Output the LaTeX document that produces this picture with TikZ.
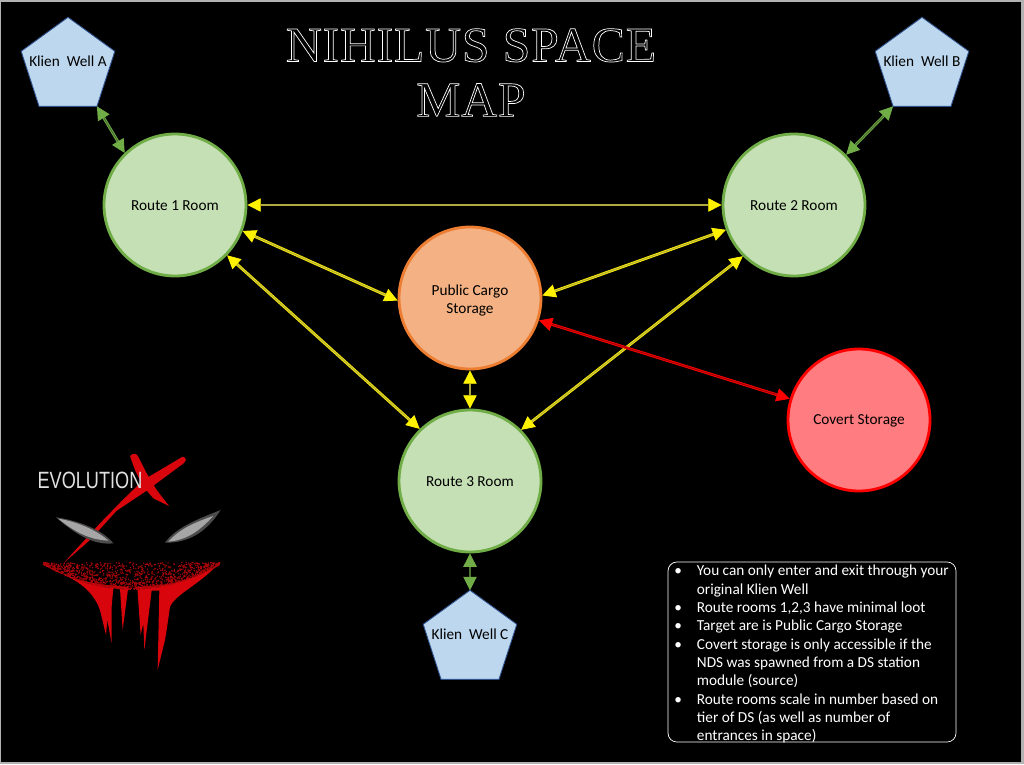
\documentclass[tikz,border=0pt]{standalone}
\usepackage{fontspec}
\setmainfont{Carlito}
\newfontfamily\titlefont[LetterSpace=1.6]{Liberation Serif}
\newfontfamily\logofont{Liberation Sans}
\usetikzlibrary{arrows.meta,shapes.geometric}
\definecolor{roomfill}{HTML}{C5E0B4}
\definecolor{roomline}{HTML}{70AD47}
\definecolor{cargofill}{HTML}{F4B183}
\definecolor{cargoline}{HTML}{ED7D31}
\definecolor{covertfill}{HTML}{FF7C80}
\definecolor{wellfill}{HTML}{BDD7EE}
\definecolor{wellline}{HTML}{2F528F}
\definecolor{logored}{HTML}{D8060C}
\tikzset{
  disc/.style={circle,line width=1.6pt,minimum size=2.84cm,inner sep=0pt,text=black,font=\fontsize{8.7}{10.4}\selectfont,align=center},
  room/.style={disc,draw=roomline,fill=roomfill,text height=6.8pt},
  cargo/.style={disc,draw=cargoline,fill=cargofill},
  covert/.style={disc,draw=red,fill=covertfill,text height=6.8pt},
  well/.style={regular polygon,regular polygon sides=5,draw=wellline,fill=wellfill,line width=0.5pt,minimum size=1.97cm,inner sep=0pt,outer sep=0pt},
  welltext/.style={text=black,font=\fontsize{8.7}{10.4}\selectfont,yshift=0.1cm},
  link/.style={double=#1!65!black,draw=#1,line width=0.5pt,double distance=0.6pt,{Triangle[length=7.6pt,width=7.6pt,fill=#1]}-{Triangle[length=7.6pt,width=7.6pt,fill=#1]}},
  yellowlink/.style={link=yellow},
  greenlink/.style={link=roomline},
  redlink/.style={link=red},
  logogrey/.style={fill=black!35,draw=none},
}
\newcommand{\hollow}[1]{\special{pdf:code 1 Tr 0.4 w 1 1 1 RG}#1\special{pdf:code 0 Tr}}
\begin{document}
\begin{tikzpicture}[x=0.02cm,y=-0.02cm]

  \useasboundingbox (0,0) rectangle (1024,764);
  \fill[black!30] (0,0) rectangle (1024,764);
  \fill[black] (1.5,2) rectangle (1021,762);

  \node (title) [text=white,align=center,font=\fontsize{28.3}{31.2}\selectfont\titlefont] at(471,72.5) {\hollow{NIHILUS SPACE}\\\hollow{MAP}};

  % rooms
  \node (route1) [room] at(175,205) {Route 1 Room};
  \node (route2) [room] at(794,205) {Route 2 Room};
  \node (route3) [room] at(470,481) {Route 3 Room};
  \node (cargo) [cargo] at(470,298) {\rule{0pt}{8.5pt}Public Cargo\\Storage};
  \node (covert) [covert] at(859,420) {Covert Storage};

  % wells
  \node (wellA) [well,label={[welltext]center:Klien\ \ Well A}] at(68,66.5) {};
  \node (wellB) [well,label={[welltext]center:Klien\ \ Well B}] at(922,66.5) {};
  \node (wellC) [well,label={[welltext]center:Klien\ \ Well C}] at(470,639.5) {};

  \draw[greenlink] (wellA.corner 4) -- (route1.134);
  \draw[greenlink] (wellB.corner 3) -- (route2.44);
  \draw[greenlink] (route3.south) -- (wellC.corner 1);

  \draw[yellowlink] (route1.east) -- (route2.west);
  \draw[yellowlink] (route1.-21) -- (cargo.182);
  \draw[yellowlink] (cargo.2) -- (route2.200);
  \draw[yellowlink] (route1.-44) -- (route3.134);
  \draw[yellowlink] (route2.225) -- (route3.45);
  \draw[yellowlink] (cargo.south) -- (route3.north);
  \draw[redlink] (cargo.-18) -- (covert.163);

  % notes
  \node (notes) [draw=white,fill=black,rounded corners=5pt,line width=0.4pt,minimum width=5.76cm,minimum height=3.6cm,inner sep=0pt] at(812,652) {};
  \node (notetext) [text=white,anchor=north west,inner sep=0pt,font=\fontsize{8.7}{10.45}\selectfont] at(674,562.5) {%
    \begin{tabular}{@{}l@{\hskip 8.5pt}l@{}}
    \textbullet & You can only enter and exit through your\\
     & original Klien Well\\
    \textbullet & Route rooms 1,2,3 have minimal loot\\
    \textbullet & Target are is Public Cargo Storage\\
    \textbullet & Covert storage is only accessible if the\\
     & NDS was spawned from a DS station\\
     & module (source)\\
    \textbullet & Route rooms scale in number based on\\
     & tier of DS (as well as number of\\
     & entrances in space)
    \end{tabular}};

  % logo
  \begin{scope}[shift={(0,430)},x=0.00667cm,y=-0.00667cm]
    \fill[logored] (190,400) -- (300,280) -- (370,208) -- (430,150) -- (548,80) .. controls (562,82) and (562,95) .. (540,108) -- (440,182) -- (350,242) -- (270,330) -- cycle;
    \fill[logored] (390,78) .. controls (400,68) and (410,70) .. (415,80) -- (440,130) -- (470,180) -- (507,228) -- (460,205) -- (430,170) -- (405,120) -- cycle;
    \fill[black!70] (168,262) .. controls (230,270) and (310,300) .. (340,340) .. controls (290,345) and (240,325) .. cycle;
    \fill[logogrey] (175,266) .. controls (230,275) and (290,300) .. (325,332) .. controls (280,330) and (235,315) .. cycle;
    \fill[black!70] (495,338) .. controls (530,290) and (600,265) .. (662,240) .. controls (630,290) and (580,340) .. cycle;
    \fill[logogrey] (505,335) .. controls (540,295) and (590,275) .. (640,258) .. controls (610,290) and (570,330) .. cycle;
    \fill[logored] (165,420) .. controls (215,445) and (275,470) .. (300,540) -- (318,615) -- (322,570) -- (335,640) -- (335,530) -- (340,475) -- (360,475) -- (368,600) -- (385,470) -- (412,472) -- (422,615) -- (430,580) -- (433,660) -- (455,482) -- (478,482) -- (473,720) -- (495,630) -- (500,600) -- (510,530) .. controls (530,490) and (590,470) .. (655,402) .. controls (590,450) and (500,470) .. (400,470) .. controls (300,470) and (220,450) .. cycle;
    \pgfmathsetseed{7}
    \foreach \i in {1,...,1500}
    {
      \pgfmathsetmacro{\px}{395+265*(2*rnd-1)}
      \pgfmathsetmacro{\pb}{478-75*(abs(\px-395)/265)^2}
      \pgfmathsetmacro{\py}{\pb-(\pb-398)*rnd^1.8}
      \fill[logored!80!black] (\px,\py) circle (2.2);
    }
    \node (evolution) [text=black!12,inner sep=0pt,transform shape,xscale=0.77,font=\fontsize{13.4}{14}\selectfont\logofont] at(270,150) {EVOLUTION};
  \end{scope}

\end{tikzpicture}
\end{document}
